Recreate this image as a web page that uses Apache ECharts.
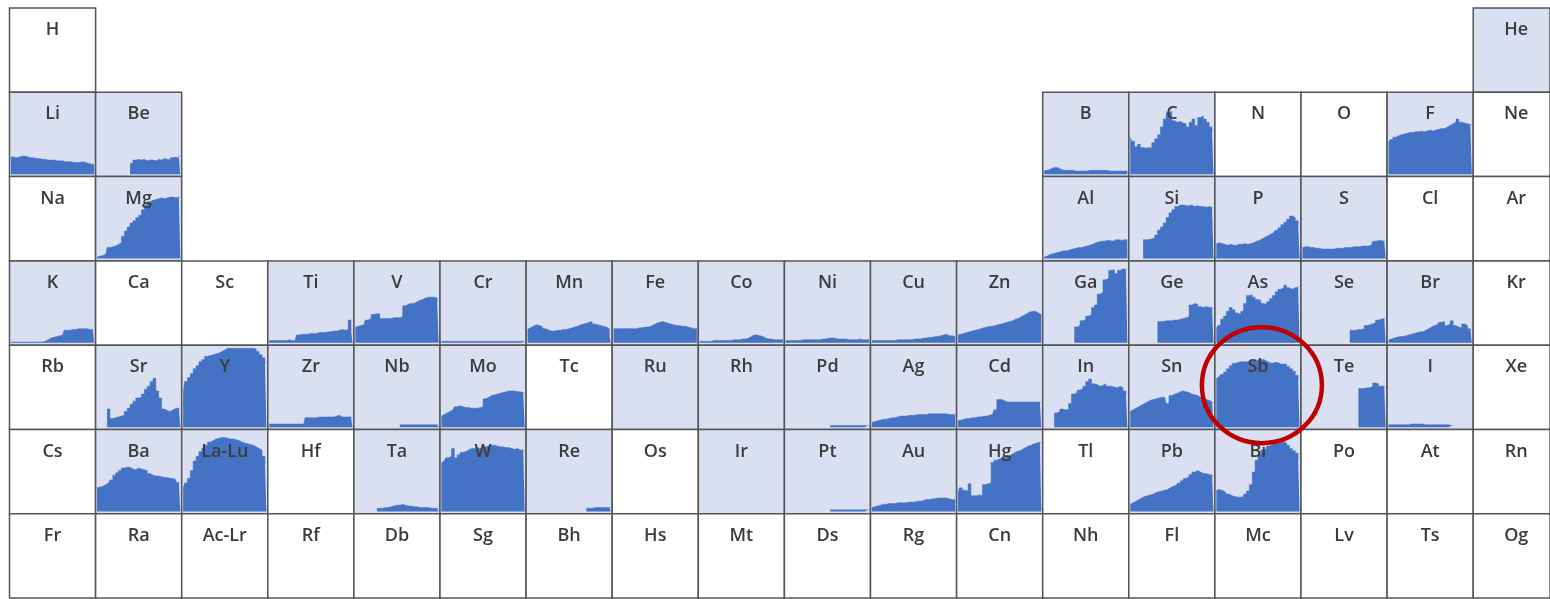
<!DOCTYPE html>
<html>
<head>
<meta charset="utf-8">
<script src="https://cdn.jsdelivr.net/npm/echarts@6/dist/echarts.min.js"></script>
<style>
  html, body { margin: 0; padding: 0; background: #fff; }
  #table { width: 1550px; height: 599px; }
</style>
</head>
<body>
<div id="table"></div>
<script>
// periodic table slots, '' = no cell
const tableRows = [
  ['H', '', '', '', '', '', '', '', '', '', '', '', '', '', '', '', '', 'He'],
  ['Li', 'Be', '', '', '', '', '', '', '', '', '', '', 'B', 'C', 'N', 'O', 'F', 'Ne'],
  ['Na', 'Mg', '', '', '', '', '', '', '', '', '', '', 'Al', 'Si', 'P', 'S', 'Cl', 'Ar'],
  ['K', 'Ca', 'Sc', 'Ti', 'V', 'Cr', 'Mn', 'Fe', 'Co', 'Ni', 'Cu', 'Zn', 'Ga', 'Ge', 'As', 'Se', 'Br', 'Kr'],
  ['Rb', 'Sr', 'Y', 'Zr', 'Nb', 'Mo', 'Tc', 'Ru', 'Rh', 'Pd', 'Ag', 'Cd', 'In', 'Sn', 'Sb', 'Te', 'I', 'Xe'],
  ['Cs', 'Ba', 'La-Lu', 'Hf', 'Ta', 'W', 'Re', 'Os', 'Ir', 'Pt', 'Au', 'Hg', 'Tl', 'Pb', 'Bi', 'Po', 'At', 'Rn'],
  ['Fr', 'Ra', 'Ac-Lr', 'Rf', 'Db', 'Sg', 'Bh', 'Hs', 'Mt', 'Ds', 'Rg', 'Cn', 'Nh', 'Fl', 'Mc', 'Lv', 'Ts', 'Og']
]

// 30 samples per sparkline
const samples = ['0', '1', '2', '3', '4', '5', '6', '7', '8', '9', '10', '11', '12', '13', '14',
  '15', '16', '17', '18', '19', '20', '21', '22', '23', '24', '25', '26', '27', '28', '29']

const _ = null
const He = []
const Li = [22, 22, 21, 22, 23, 23, 22, 21, 21, 20, 20, 19, 19, 18, 18, 18, 17, 17, 17, 16, 16, 16, 15, 15, 15, 16, 15, 14, 13, 12]
const Be = [_, _, _, _, _, _, _, _, _, _, _, _, 14, 18, 19, 18, 19, 17, 18, 18, 17, 19, 18, 20, 19, 18, 21, 22, 20, 23]
const Mg = [2, 3, 4, 5, 14, 15, 16, 18, 20, 28, 35, 40, 45, 48, 52, 55, 62, 68, 72, 74, 75, 76, 77, 76, 77, 78, 78, 77, 78, 78]
const B = [4, 5, 6, 8, 9, 8, 6, 5, 5, 5, 5, 4, 4, 4, 4, 4, 5, 5, 5, 5, 5, 5, 5, 4, 4, 4, 4, 4, 4, 4]
const C = [47, 42, 35, 38, 34, 33, 34, 33, 40, 45, 50, 60, 70, 78, 80, 68, 66, 67, 65, 64, 60, 66, 70, 62, 72, 74, 70, 66, 60, 55]
const F = [40, 44, 47, 49, 50, 51, 52, 53, 53, 54, 54, 55, 54, 55, 56, 55, 56, 57, 58, 58, 60, 62, 64, 66, 70, 66, 65, 64, 63, 62]
const Al = [2, 3, 5, 6, 7, 8, 9, 10, 10, 11, 12, 13, 14, 14, 15, 16, 17, 18, 20, 21, 22, 22, 23, 23, 22, 24, 24, 23, 24, 24]
const Si = [_, _, _, _, _, 24, 24, 25, 26, 30, 36, 40, 45, 52, 58, 62, 66, 68, 68, 67, 67, 68, 66, 67, 66, 66, 65, 66, 65, 64]
const P = [19, 20, 19, 18, 17, 18, 17, 17, 18, 18, 19, 18, 19, 20, 22, 23, 25, 27, 29, 31, 33, 36, 39, 43, 46, 50, 54, 52, 48, 44]
const S = [14, 15, 15, 14, 14, 13, 13, 12, 12, 12, 12, 12, 13, 13, 13, 14, 14, 14, 15, 15, 15, 16, 16, 16, 17, 22, 23, 23, 22, 21]
const K = [1, 1, 1, 1, 1, 1, 1, 1, 1, 1, 1, 1, 2, 4, 6, 7, 8, 9, 10, 16, 16, 17, 17, 18, 18, 18, 18, 17, 17, 15]
const Ti = [3, 3, 3, 3, 3, 3, 3, 4, 3, 3, 10, 11, 11, 11, 12, 12, 12, 13, 13, 13, 14, 14, 15, 15, 16, 17, 16, 17, 29, 16]
const V = [20, 21, 22, 23, 29, 31, 36, 37, 37, 31, 31, 31, 31, 32, 32, 32, 33, 47, 49, 50, 50, 52, 54, 55, 57, 58, 58, 58, 57, 54]
const Cr = [2, 2, 2, 2, 2, 2, 2, 2, 2, 2, 2, 2, 2, 2, 2, 2, 2, 2, 2, 2, 2, 2, 2, 2, 2, 2, 2, 2, 2, 2]
const Mn = [17, 19, 21, 23, 22, 21, 18, 16, 15, 15, 16, 16, 17, 17, 18, 19, 20, 21, 23, 24, 25, 26, 27, 24, 23, 22, 21, 20, 18, 10]
const Fe = [18, 18, 18, 18, 18, 18, 18, 18, 18, 19, 19, 20, 20, 21, 23, 25, 26, 27, 26, 25, 24, 23, 22, 22, 21, 21, 20, 19, 18, 18]
const Co = [2, 2, 2, 2, 2, 3, 3, 3, 3, 3, 3, 3, 4, 4, 4, 5, 5, 6, 8, 10, 10, 9, 8, 6, 5, 5, 4, 4, 4, 4]
const Ni = [3, 3, 3, 3, 3, 3, 4, 4, 4, 4, 4, 4, 4, 5, 5, 6, 6, 6, 5, 5, 5, 5, 4, 4, 4, 4, 5, 4, 4, 4]
const Cu = [3, 3, 3, 3, 3, 3, 3, 3, 3, 4, 4, 4, 4, 4, 4, 5, 5, 5, 6, 6, 7, 7, 8, 8, 9, 10, 11, 9, 9, 8]
const Zn = [10, 11, 12, 13, 14, 15, 16, 17, 18, 19, 20, 21, 21, 22, 23, 24, 25, 26, 27, 28, 30, 31, 33, 35, 37, 39, 40, 40, 38, 36]
const Ga = [_, _, _, _, _, _, _, _, _, _, _, 20, 22, 28, 30, 34, 36, 45, 48, 62, 64, 80, 82, 92, 93, 88, 92, 94, 93, 94]
const Ge = [_, _, _, _, _, _, _, _, _, _, 27, 27, 28, 28, 28, 29, 29, 30, 31, 32, 33, 48, 50, 49, 46, 45, 46, 45, 45, 44]
const As = [18, 22, 30, 34, 40, 45, 42, 38, 36, 40, 50, 60, 61, 58, 55, 54, 50, 49, 52, 56, 60, 65, 68, 70, 73, 70, 68, 70, 71, 72]
const Se = [_, _, _, _, _, _, _, _, _, _, _, _, _, _, _, _, _, 16, 16, 17, 17, 18, 22, 23, 24, 26, 29, 30, 31, 30]
const Br = [4, 5, 6, 7, 8, 8, 9, 10, 11, 12, 13, 14, 14, 16, 18, 20, 22, 23, 26, 27, 22, 24, 28, 22, 20, 19, 24, 22, 18, 16]
const Sr = [_, _, _, _, 23, 11, 12, 13, 14, 15, 20, 24, 29, 33, 37, 38, 42, 48, 52, 58, 62, 46, 37, 23, 21, 20, 22, 24, 24, 23]
const Y = [42, 58, 63, 68, 74, 78, 83, 86, 90, 91, 92, 93, 94, 96, 98, 100, 100, 100, 100, 100, 100, 100, 100, 100, 100, 99, 96, 92, 88, 81]
const Zr = [4, 4, 4, 4, 4, 4, 4, 4, 4, 4, 4, 4, 4, 12, 12, 12, 12, 13, 13, 13, 13, 13, 13, 14, 15, 13, 13, 13, 13, 13]
const Nb = [_, _, _, _, _, _, _, _, _, _, _, _, _, _, _, _, 3, 3, 3, 3, 3, 3, 3, 3, 3, 3, 3, 3, 3, 3]
const Mo = [14, 16, 18, 20, 22, 26, 27, 26, 25, 25, 24, 24, 24, 25, 26, 36, 38, 40, 41, 42, 43, 44, 45, 46, 46, 46, 45, 45, 44, 44]
const Ru = []
const Rh = []
const Pd = [_, _, _, _, _, _, _, _, _, _, _, _, _, _, _, _, 2, 2, 2, 2, 2, 2, 2, 2, 2, 2, 2, 2, 2, 2]
const Ag = [6, 7, 8, 9, 10, 10, 11, 12, 12, 13, 14, 14, 14, 15, 15, 15, 16, 16, 16, 16, 17, 17, 17, 17, 17, 17, 17, 16, 16, 16]
const Cd = [8, 9, 10, 11, 11, 12, 12, 13, 13, 14, 14, 15, 16, 22, 35, 35, 33, 32, 32, 32, 32, 32, 32, 32, 32, 32, 32, 32, 32, 32]
const In = [_, _, _, _, 18, 20, 23, 22, 22, 30, 42, 44, 47, 49, 52, 58, 61, 55, 54, 52, 53, 55, 52, 52, 51, 50, 52, 50, 46, 42]
const Sn = [20, 22, 24, 26, 28, 30, 32, 34, 35, 36, 37, 38, 38, 30, 40, 42, 43, 45, 46, 45, 44, 42, 41, 40, 38, 37, 35, 34, 32, 31]
const Sb = [62, 64, 67, 70, 74, 78, 81, 82, 83, 83, 83, 83, 84, 84, 85, 86, 86, 84, 82, 81, 82, 82, 80, 80, 80, 77, 74, 71, 66, 60]
const Te = [_, _, _, _, _, _, _, _, _, _, _, _, _, _, _, _, _, _, _, _, 49, 49, 50, 50, 52, 56, 55, 52, 52, 51]
const I = [3, 3, 3, 3, 3, 3, 3, 3, 4, 4, 4, 4, 4, 3, 3, 3, 3, 3, 3, 3, 3, 3, 2, _, _, _, _, _, _, _]
const Ba = [30, 31, 32, 34, 36, 40, 46, 49, 52, 55, 56, 56, 54, 53, 55, 54, 53, 52, 48, 46, 45, 45, 44, 43, 43, 42, 42, 40, 37, 35]
const LaLu = [29, 36, 42, 52, 64, 70, 76, 80, 84, 88, 90, 92, 93, 94, 94, 93, 92, 92, 91, 90, 88, 87, 86, 85, 84, 82, 80, 78, 70, 62]
const Ta = [_, _, _, _, _, _, _, _, 4, 4, 5, 5, 6, 7, 8, 8, 9, 8, 7, 7, 6, 6, 5, 5, 5, 5, 4, 4, 4, 4]
const W = [62, 64, 68, 70, 80, 68, 72, 75, 76, 78, 80, 80, 81, 80, 81, 82, 83, 84, 84, 83, 82, 82, 81, 81, 80, 79, 80, 78, 78, 77]
const Re = [_, _, _, _, _, _, _, _, _, _, _, _, _, _, _, _, _, _, _, _, _, 4, 4, 5, 5, 5, 5, 5, 5, 5]
const Ir = []
const Pt = [_, _, _, _, _, _, _, _, _, _, _, _, _, _, _, _, 2, 2, 2, 2, 2, 2, 2, 2, 2, 2, 2, 2, 2, 2]
const Au = [5, 6, 7, 8, 9, 9, 10, 10, 10, 11, 11, 11, 11, 12, 12, 12, 13, 13, 14, 15, 15, 16, 16, 17, 17, 17, 17, 16, 15, 15]
const Hg = [24, 30, 27, 26, 35, 20, 20, 21, 20, 34, 35, 36, 62, 65, 67, 68, 68, 70, 72, 74, 76, 77, 79, 81, 83, 84, 86, 87, 88, 86]
const Pb = [9, 11, 13, 15, 17, 19, 20, 21, 22, 24, 25, 26, 27, 28, 30, 32, 33, 36, 39, 42, 44, 47, 50, 52, 50, 48, 48, 47, 46, 45]
const Bi = [27, 28, 27, 25, 22, 20, 19, 18, 18, 19, 22, 26, 34, 50, 65, 72, 78, 80, 83, 85, 86, 86, 87, 88, 87, 84, 80, 77, 74, 68]

// shaded cells = elements with a trend (some are empty)
const trends = {
  He, Li, Be, B, C, F, Mg, Al, Si, P, S, K, Ti, V, Cr, Mn, Fe, Co, Ni, Cu, Zn, Ga, Ge, As, Se, Br,
  Sr, Y, Zr, Nb, Mo, Ru, Rh, Pd, Ag, Cd, In, Sn, Sb, Te, I,
  Ba, 'La-Lu': LaLu, Ta, W, Re, Ir, Pt, Au, Hg, Pb, Bi
}
const highlight = 'Sb'

const chart = echarts.init(document.getElementById('table'))

const left0 = 9.5
const top0 = 8
const cellW = 86.1
const cellH = 84.3

const grid = []
const xAxis = []
const yAxis = []
const series = []
const graphic = []

tableRows.forEach((row, r) => {
  row.forEach((sym, c) => {
    if (!sym) return
    const idx = grid.length
    const x = left0 + c * cellW
    const y = top0 + r * cellH
    const data = trends[sym]
    grid.push({
      left: x,
      top: y,
      width: cellW,
      height: cellH,
      show: true,
      backgroundColor: data ? '#dae0f2' : '#ffffff',
      borderColor: '#555555',
      borderWidth: 1.5
    })
    xAxis.push({ gridIndex: idx, type: 'category', data: samples, boundaryGap: true, show: false })
    yAxis.push({ gridIndex: idx, type: 'value', min: -3, max: 104, show: false })
    if (data && data.length) {
      series.push({
        type: 'line',
        name: sym,
        xAxisIndex: idx,
        yAxisIndex: idx,
        data: data,
        step: 'middle',
        symbol: 'none',
        silent: true,
        lineStyle: { width: 0.5, color: '#4472c4' },
        areaStyle: { color: '#4472c4', opacity: 1 }
      })
    }
    graphic.push({
      type: 'text',
      x: x + cellW / 2,
      y: y + 22,
      z: 100,
      style: {
        text: sym,
        fill: '#3c3c3c',
        fontSize: 18,
        fontWeight: 600,
        fontFamily: 'Open Sans',
        align: 'center',
        verticalAlign: 'middle'
      }
    })
    if (sym === highlight) {
      graphic.push({
        type: 'ellipse',
        z: 110,
        shape: { cx: x + 47, cy: y + 40, rx: 60, ry: 58 },
        style: { fill: 'none', stroke: '#c00000', lineWidth: 4.5 }
      })
    }
  })
})

chart.setOption({
  animation: false,
  grid,
  xAxis,
  yAxis,
  series,
  graphic
})
window.onresize = () => {
  chart.resize()
}
</script>
</body>
</html>
